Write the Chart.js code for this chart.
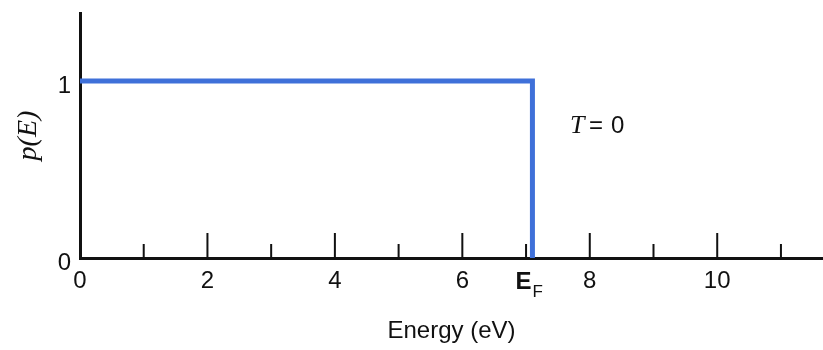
<!DOCTYPE html>
<html>
<head>
<meta charset="utf-8">
<script src="https://cdn.jsdelivr.net/npm/chart.js@4.4.1/dist/chart.umd.min.js"></script>
<style>
  body { margin: 0; background: #fff; }
  canvas { display: block; }
</style>
</head>
<body>
<canvas id="chart" width="823" height="350"></canvas>
<script>
// occupation probability at T = 0 (step at the Fermi energy)
const fermiEnergy = 7.1;
const energy = [0, fermiEnergy, fermiEnergy];
const occupancy = [1, 1, 0];
const majorTicks = [0, 2, 4, 6, 8, 10];
const minorTicks = [1, 3, 5, 7, 9, 11];
const yTicks = [0, 1];

const ink = '#111';
const blue = '#3f70d9';

// inward tick marks, E_F label, T=0 note
const extras = {
    id: 'extras',
    beforeDatasetsDraw(chart) {
        const ctx = chart.ctx;
        const x = chart.scales.x, y = chart.scales.y;
        const base = y.getPixelForValue(0);
        ctx.save();
        ctx.strokeStyle = ink;
        ctx.lineWidth = 2;
        ctx.beginPath();
        majorTicks.forEach(v => {
            if (v === 0) return;
            const px = x.getPixelForValue(v);
            ctx.moveTo(px, base);
            ctx.lineTo(px, base - 25);
        });
        minorTicks.forEach(v => {
            const px = x.getPixelForValue(v);
            ctx.moveTo(px, base);
            ctx.lineTo(px, base - 14);
        });
        const py = y.getPixelForValue(1) + 1;
        ctx.moveTo(x.left, py);
        ctx.lineTo(x.left + 30, py);
        ctx.stroke();
        ctx.restore();
    },
    afterDraw(chart) {
        const ctx = chart.ctx;
        const x = chart.scales.x, y = chart.scales.y;
        ctx.save();
        ctx.fillStyle = ink;
        ctx.textBaseline = 'alphabetic';
        // E_F label under the step
        const fx = x.getPixelForValue(fermiEnergy);
        ctx.font = 'bold 24px "Liberation Sans", Arial, sans-serif';
        ctx.textAlign = 'left';
        ctx.fillText('E', fx - 17, 289);
        ctx.font = '17px "Liberation Sans", Arial, sans-serif';
        ctx.fillText('F', fx + 0, 297);
        // T = 0 annotation
        const tx = x.getPixelForValue(7.69);
        const ty = y.getPixelForValue(0.75) + 8;
        ctx.font = 'italic 26px "Liberation Serif", "DejaVu Serif", serif';
        ctx.fillText('T', tx, ty);
        ctx.font = '24px "Liberation Sans", Arial, sans-serif';
        ctx.fillText('=', tx + 19, ty);
        ctx.fillText('0', tx + 41, ty);
        ctx.restore();
    }
};

new Chart(document.getElementById('chart').getContext('2d'), {
    type: 'line',
    data: {
        datasets: [{
            data: energy.map((e, i) => ({ x: e, y: occupancy[i] })),
            borderColor: blue,
            borderWidth: 5,
            pointRadius: 0,
            tension: 0,
            fill: false
        }]
    },
    options: {
        responsive: false,
        animation: false,
        devicePixelRatio: 1,
        layout: { padding: { top: 13, right: 0, left: 0, bottom: 0 } },
        plugins: { legend: { display: false }, tooltip: { enabled: false } },
        scales: {
            x: {
                type: 'linear',
                min: 0,
                max: 11.66,
                afterBuildTicks: s => { s.ticks = majorTicks.map(v => ({ value: v })); },
                afterFit: s => { s.height = 92; s.paddingLeft = 0; s.paddingRight = 0; },
                grid: { display: false, drawTicks: false, tickLength: 0 },
                border: { display: true, color: ink, width: 3 },
                ticks: {
                    padding: 9,
                    color: ink,
                    maxRotation: 0,
                    autoSkip: false,
                    font: { family: '"Liberation Sans", Arial, sans-serif', size: 24 }
                },
                title: {
                    display: true,
                    text: 'Energy (eV)',
                    color: ink,
                    padding: { top: 0, bottom: 4 },
                    font: { family: '"Liberation Sans", Arial, sans-serif', size: 24 }
                }
            },
            y: {
                min: 0,
                max: 1.384,
                afterBuildTicks: s => { s.ticks = yTicks.map(v => ({ value: v })); },
                afterFit: s => { s.width = 80; s.paddingTop = 0; s.paddingBottom = 0; },
                grid: { display: false, drawTicks: false, tickLength: 0 },
                border: { display: true, color: ink, width: 3 },
                ticks: {
                    padding: 9,
                    color: ink,
                    labelOffset: 5,
                    font: { family: '"Liberation Sans", Arial, sans-serif', size: 24 }
                },
                title: {
                    display: true,
                    text: 'p(E)',
                    color: ink,
                    padding: { top: 12, bottom: 0 },
                    font: { family: '"Liberation Serif", "DejaVu Serif", serif', size: 28, style: 'italic' }
                }
            }
        }
    },
    plugins: [extras]
});
</script>
</body>
</html>
